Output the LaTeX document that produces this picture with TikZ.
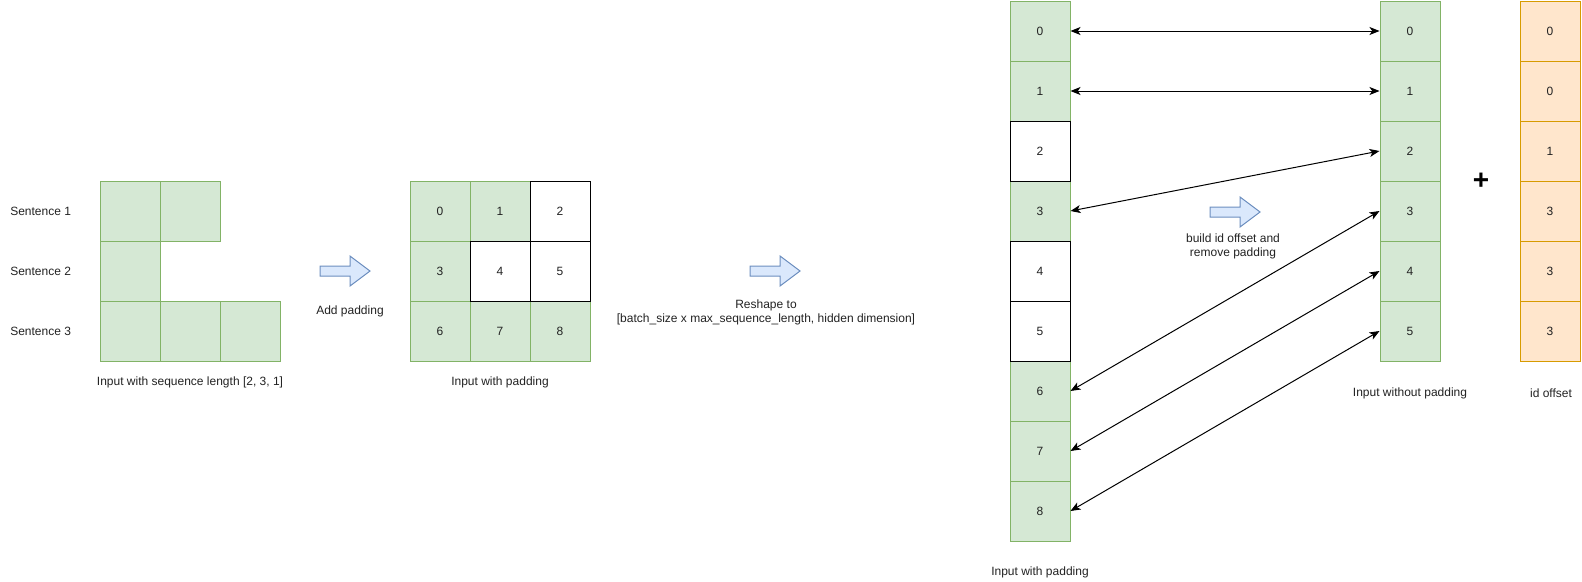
\documentclass[tikz,border=0pt]{standalone}
\usepackage{fontspec}
\setmainfont{Liberation Sans}
\usetikzlibrary{arrows.meta}
\definecolor{greenfill}{HTML}{D5E8D4}
\definecolor{greenline}{HTML}{82B366}
\definecolor{orangefill}{HTML}{FFE6CC}
\definecolor{orangeline}{HTML}{D79B00}
\definecolor{bluefill}{HTML}{DAE8FC}
\definecolor{blueline}{HTML}{6C8EBF}
\definecolor{textgray}{HTML}{222222}
\begin{document}
\begin{tikzpicture}[x=0.75pt,y=-0.75pt,
  every node/.style={font=\fontsize{9}{10.5}\selectfont, text=textgray},
  cell/.style={draw, line width=0.75pt, minimum width=45pt, minimum height=45pt, inner sep=0pt, anchor=center},
  gcell/.style={cell, draw=greenline, fill=greenfill},
  wcell/.style={cell, draw=black, fill=white},
  ocell/.style={cell, draw=orangeline, fill=orangefill},
  label/.style={align=center, inner sep=0pt},
  link/.style={{Stealth[length=7.5pt,width=6pt,inset=2pt]}-{Stealth[length=7.5pt,width=6pt,inset=2pt]}, line width=0.75pt, draw=black},
  blockarrow/.pic={\draw[line width=0.75pt, draw=blueline, fill=bluefill, line join=miter]
     (0,-5) -- (30,-5) -- (30,-15) -- (50,0) -- (30,15) -- (30,5) -- (0,5) -- cycle;}
]
\useasboundingbox (0,0) rectangle (1582,582);

% --- input with sequence length [2, 3, 1]
\node[label, anchor=west] (s1) at (10,211) {Sentence 1};
\node[label, anchor=west] (s2) at (10,271) {Sentence 2};
\node[label, anchor=west] (s3) at (10,331) {Sentence 3};
\node[gcell] (a00) at (130,211) {};
\node[gcell] (a01) at (190,211) {};
\node[gcell] (a10) at (130,271) {};
\node[gcell] (a20) at (130,331) {};
\node[gcell] (a21) at (190,331) {};
\node[gcell] (a22) at (250,331) {};
\node[label] (capA) at (190,382) {Input with sequence length [2, 3, 1]};

% --- add padding
\pic at (320,271) {blockarrow};
\node[label] (padtxt) at (350,311) {Add padding};

% --- padded 3x3 grid
\node[gcell] (b0) at (440,211) {0};
\node[gcell] (b1) at (500,211) {1};
\node[gcell] (b3) at (440,271) {3};
\node[gcell] (b6) at (440,331) {6};
\node[gcell] (b7) at (500,331) {7};
\node[gcell] (b8) at (560,331) {8};
\node[wcell] (b2) at (560,211) {2};
\node[wcell] (b4) at (500,271) {4};
\node[wcell] (b5) at (560,271) {5};
\node[label] (capB) at (500,382) {Input with padding};

% --- reshape
\pic at (750,271) {blockarrow};
\node[label] (reshape) at (766,312) {Reshape to\\{}[batch\_size x max\_sequence\_length, hidden dimension]};

% --- flattened column with padding
\foreach \k in {0,1,3,6,7,8} {
  \node[gcell] (L\k) at (1040,{31+60*\k}) {\k};
}
\foreach \k in {2,4,5} {
  \node[wcell] (L\k) at (1040,{31+60*\k}) {\k};
}
\node[label] (capL) at (1040,572) {Input with padding};

% --- column without padding
\foreach \k in {0,...,5} {
  \node[gcell] (R\k) at (1410,{31+60*\k}) {\k};
}
\node[label] (capR) at (1410,393) {Input without padding};

% --- id offset column
\foreach \k/\v in {0/0,1/0,2/1,3/3,4/3,5/3} {
  \node[ocell] (O\k) at (1550,{31+60*\k}) {\v};
}
\node[label] (capO) at (1551,393) {id offset};

\node[label, font=\fontsize{21}{21}\selectfont\bfseries, text=black] (plus) at (1481,181) {+};

% --- build id offset
\pic at (1210,212) {blockarrow};
\node[label] (build) at (1233,246.5) {build id offset and\\remove padding};

% --- token correspondences
\draw[link] (L0.east) -- (R0.west);
\draw[link] (L1.east) -- (R1.west);
\draw[link] (L3.east) -- (R2.west);
\draw[link] (L6.east) -- (R3.west);
\draw[link] (L7.east) -- (R4.west);
\draw[link] (L8.east) -- (R5.west);
\end{tikzpicture}
\end{document}
